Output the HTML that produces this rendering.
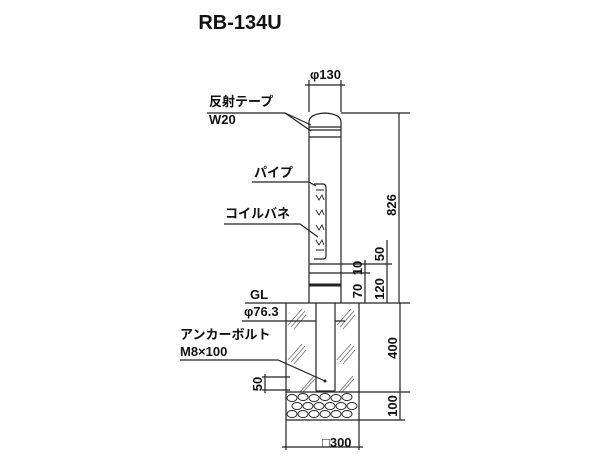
<!DOCTYPE html>
<html><head><meta charset="utf-8"><style>
html,body{margin:0;padding:0;background:#fff;}
svg{display:block;}
text{font-family:"Liberation Sans","Noto Sans CJK JP",sans-serif;fill:#111;}
</style></head><body>
<svg width="600" height="476" viewBox="0 0 600 476" xmlns="http://www.w3.org/2000/svg">
<text x="240" y="29" font-size="20" font-weight="bold" text-anchor="middle">RB-134U</text>
<g stroke="#222" stroke-width="1.2" fill="none">
<line x1="309" y1="80" x2="309" y2="112"/><line x1="341" y1="80" x2="341" y2="112"/>
<line x1="305" y1="85" x2="345" y2="85"/>
<path d="M309,303 L309,122 Q309,114 325,113 Q341,114 341,122 L341,303"/>
<line x1="309" y1="127" x2="341" y2="127"/><line x1="309" y1="130" x2="341" y2="130"/>
<line x1="309" y1="137" x2="341" y2="137"/>
<line x1="309" y1="264" x2="341" y2="264"/>
<line x1="309" y1="273" x2="341" y2="273"/>
<line x1="309" y1="285" x2="341" y2="285" stroke-width="3"/>
<path d="M314,184 L323,184 Q326,184 326,188 L326,256 Q326,259 323,259 L314,259"/>
<path d="M316,190 L324,190 M316,195 l3,5 l3,-5 l2,5 M316,210 l3,5 l3,-5 l2,5 M316,225 l3,5 l3,-5 l2,5 M316,240 l3,5 l3,-5 l2,5 M316,250 L324,250" stroke-width="0.9"/>
<line x1="341" y1="113" x2="410" y2="113"/>
<line x1="399" y1="113" x2="399" y2="303"/>
<line x1="341" y1="264" x2="392" y2="264"/>
<line x1="387" y1="240" x2="387" y2="303"/>
<line x1="341" y1="273" x2="370" y2="273"/>
<line x1="365" y1="260" x2="365" y2="303"/>
<line x1="245" y1="303" x2="410" y2="303"/>
<g stroke="#777" stroke-width="0.9">
<path d="M288,325 l14,-16 M291,327 l14,-16 M294,329 l12,-14"/>
<path d="M288,360 l14,-16 M291,362 l14,-16 M294,364 l12,-14"/>
<path d="M300,392 l14,-16 M303,392 l12,-13"/>
<path d="M337,325 l14,-16 M340,327 l14,-16 M343,329 l12,-14"/>
<path d="M337,360 l14,-16 M340,362 l14,-16 M343,364 l12,-14"/>
<path d="M339,392 l14,-16 M342,392 l12,-13"/>
</g>
<line x1="286" y1="303" x2="286" y2="450"/><line x1="359" y1="303" x2="359" y2="450"/>
<line x1="316" y1="303" x2="316" y2="391"/><line x1="335" y1="303" x2="335" y2="391"/>
<line x1="316" y1="391" x2="335" y2="391"/>
<line x1="286" y1="392" x2="359" y2="392"/>
<line x1="286" y1="420" x2="359" y2="420"/>
<g stroke-width="0.9">
<ellipse cx="292" cy="398" rx="5" ry="3.5"/><ellipse cx="303" cy="397" rx="5" ry="3.5"/><ellipse cx="314" cy="398" rx="5" ry="3.5"/><ellipse cx="325" cy="397" rx="5" ry="3.5"/><ellipse cx="336" cy="398" rx="5" ry="3.5"/><ellipse cx="347" cy="397" rx="5" ry="3.5"/>
<ellipse cx="297" cy="406" rx="5" ry="3.5"/><ellipse cx="308" cy="406" rx="5" ry="3.5"/><ellipse cx="319" cy="406" rx="5" ry="3.5"/><ellipse cx="330" cy="406" rx="5" ry="3.5"/><ellipse cx="341" cy="406" rx="5" ry="3.5"/><ellipse cx="352" cy="406" rx="5" ry="3.5"/>
<ellipse cx="292" cy="414" rx="5" ry="3.5"/><ellipse cx="303" cy="414" rx="5" ry="3.5"/><ellipse cx="314" cy="414" rx="5" ry="3.5"/><ellipse cx="325" cy="414" rx="5" ry="3.5"/><ellipse cx="336" cy="414" rx="5" ry="3.5"/><ellipse cx="347" cy="414" rx="5" ry="3.5"/>
</g>
<line x1="359" y1="392" x2="410" y2="392"/>
<line x1="359" y1="420" x2="405" y2="420"/>
<line x1="400" y1="303" x2="400" y2="420"/>
<line x1="282" y1="447" x2="363" y2="447"/>
<line x1="262" y1="377" x2="290" y2="377"/><line x1="262" y1="390" x2="290" y2="390"/>
<line x1="265" y1="374" x2="265" y2="393"/>
<path d="M207,113 L285,113 L311,131"/>
<path d="M285,113 L311,125"/>
<path d="M252,182 L309,182 L316,186"/>
<path d="M224,224 L300,224 L318,237"/>
<path d="M242,321 L316,321 M335,321 L345,321"/>
<path d="M180,360 L278,360 L325,381"/>
</g>
<circle cx="325" cy="381" r="1.5" fill="#222"/>
<g font-size="13" font-weight="bold">
<text x="209" y="106">反射テープ</text>
<text x="209" y="124">W20</text>
<text x="254" y="177">パイプ</text>
<text x="225" y="218">コイルバネ</text>
<text x="250" y="299">GL</text>
<text x="244" y="316">φ76.3</text>
<text x="180" y="339">アンカーボルト</text>
<text x="180" y="356">M8×100</text>
<text x="310" y="79">φ130</text>
<text x="322" y="447">□300</text>
<text transform="translate(396,205) rotate(-90)" text-anchor="middle">826</text>
<text transform="translate(384,254) rotate(-90)" text-anchor="middle">50</text>
<text transform="translate(384,289) rotate(-90)" text-anchor="middle">120</text>
<text transform="translate(362,268) rotate(-90)" text-anchor="middle">10</text>
<text transform="translate(362,291) rotate(-90)" text-anchor="middle">70</text>
<text transform="translate(397,348) rotate(-90)" text-anchor="middle">400</text>
<text transform="translate(397,406) rotate(-90)" text-anchor="middle">100</text>
<text transform="translate(262,384) rotate(-90)" text-anchor="middle">50</text>
</g>
</svg>
</body></html>
